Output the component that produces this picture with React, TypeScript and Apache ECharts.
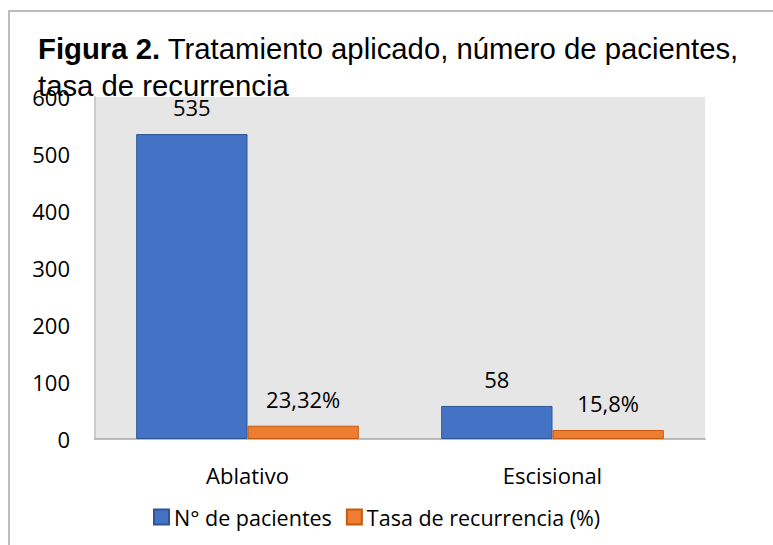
import React, { useEffect, useRef } from "react";
import * as echarts from "echarts";

const categories: string[] = ["Ablativo", "Escisional"];
const pacientes: number[] = [535, 58];
const tasa: number[] = [23.32, 15.8];
const seriesNames: string[] = ["N° de pacientes", "Tasa de recurrencia (%)"];
const titleBold = "Figura 2.";
const titleRest = " Tratamiento aplicado, número de pacientes,\ntasa de recurrencia";

const FONT = "'Open Sans', 'Noto Sans', sans-serif";

export default function App() {
  const ref = useRef<HTMLDivElement>(null);
  useEffect(() => {
    if (!ref.current) return;
    const chart = echarts.init(ref.current, undefined, { renderer: "svg" });
    chart.setOption({
      animation: false,
      backgroundColor: "#ffffff",
      graphic: [
        {
          type: "rect",
          shape: { x: 9, y: 11, width: 900, height: 700 },
          style: { fill: "none", stroke: "#a6a6a6", lineWidth: 1.5 },
          silent: true,
          z: -1,
        },
      ],
      title: {
        text: "{b|" + titleBold + "}" + titleRest,
        left: 33,
        top: 25,
        textStyle: {
          fontFamily: "'Liberation Sans', Arial, sans-serif",
          fontSize: 29.3,
          fontWeight: "normal",
          color: "#000000",
          lineHeight: 37,
          rich: {
            b: {
              fontFamily: "'Liberation Sans', Arial, sans-serif",
              fontSize: 29.3,
              fontWeight: "bold",
              color: "#000000",
              lineHeight: 37,
            },
          },
        },
      },
      legend: {
        left: 148,
        top: 501,
        itemWidth: 15,
        itemHeight: 15,
        itemGap: 14,
        icon: "rect",
        textStyle: { fontFamily: FONT, fontSize: 21.5, color: "#000000", padding: [0, 0, 0, 0] },
        data: seriesNames,
      },
      grid: {
        left: 95,
        right: 68,
        top: 97,
        bottom: 106,
        show: true,
        backgroundColor: "#e7e6e6",
        borderWidth: 0,
      },
      xAxis: {
        type: "category",
        data: categories,
        axisLine: { show: true, lineStyle: { color: "#a6a6a6", width: 1.5 } },
        axisTick: { show: false },
        axisLabel: { fontFamily: FONT, fontSize: 22, color: "#000000", margin: 25 },
      },
      yAxis: {
        type: "value",
        min: 0,
        max: 600,
        interval: 100,
        axisLine: { show: true, lineStyle: { color: "#bfbfbf", width: 1.5 } },
        axisTick: { show: false },
        splitLine: { show: false },
        axisLabel: { fontFamily: FONT, fontSize: 22, color: "#000000", margin: 25 },
      },
      series: [
        {
          name: seriesNames[0],
          type: "bar",
          data: pacientes,
          barGap: "0%",
          barCategoryGap: "27%",
          itemStyle: { color: "#4472c4", borderColor: "#2f5597", borderWidth: 1 },
          label: {
            show: true,
            position: "top",
            distance: 16,
            fontFamily: FONT,
            fontSize: 22,
            color: "#000000",
          },
        },
        {
          name: seriesNames[1],
          type: "bar",
          data: tasa,
          itemStyle: { color: "#ed7d31", borderColor: "#c55a11", borderWidth: 1 },
          label: {
            show: true,
            position: "top",
            distance: 16,
            fontFamily: FONT,
            fontSize: 22,
            color: "#000000",
            formatter: (p: any) => String(p.value).replace(".", ",") + "%",
          },
        },
      ],
    });
    return () => chart.dispose();
  }, []);
  return (
    <div
      ref={ref}
      style={{ position: "fixed", left: 0, top: 0, width: 773, height: 545 }}
    />
  );
}
